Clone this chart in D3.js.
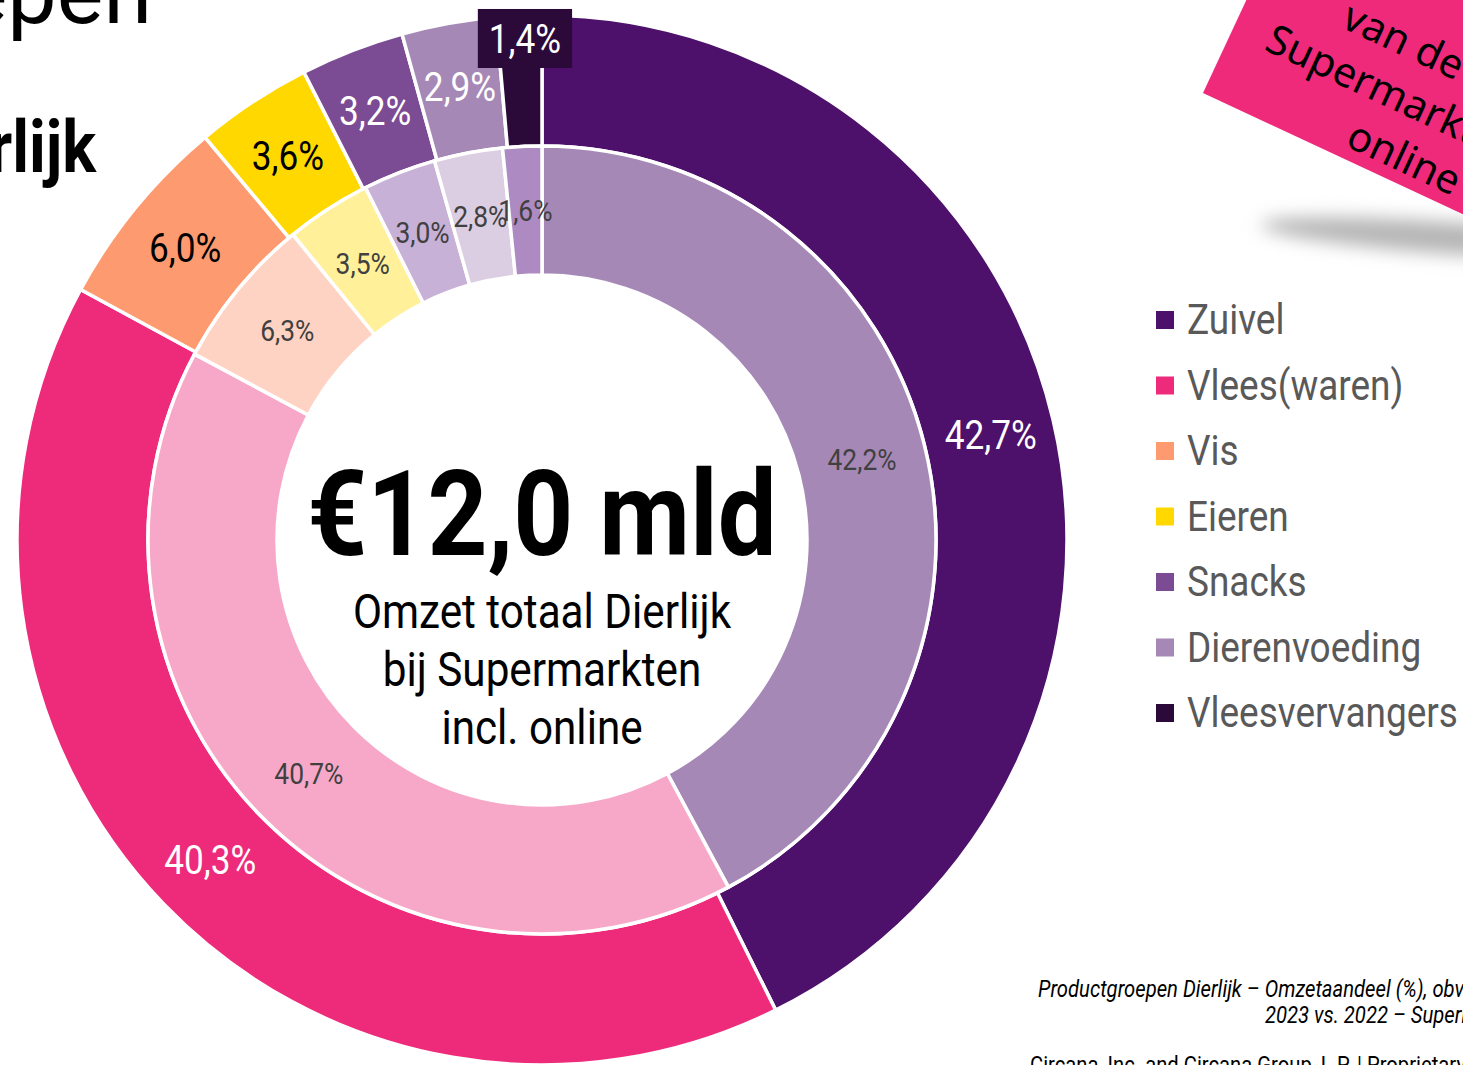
<!DOCTYPE html>
<html>
<head>
<meta charset="utf-8">
<script src="https://cdn.jsdelivr.net/npm/d3@7"></script>
<style>
  html, body { margin: 0; padding: 0; background: #fff; overflow: hidden; }
  svg { display: block; font-family: Roboto, "Noto Sans", sans-serif; }
</style>
</head>
<body>
<div id="chart"></div>
<script>
// DATA
var categories = ["Zuivel", "Vlees(waren)", "Vis", "Eieren", "Snacks", "Dierenvoeding", "Vleesvervangers"];
var share2023 = [42.7, 40.3, 6.0, 3.6, 3.2, 2.9, 1.4];   // outer ring
var share2022 = [42.2, 40.7, 6.3, 3.5, 3.0, 2.8, 1.6];   // inner ring

var outerColors = ["#4d106b", "#ee2a7b", "#fe9a6f", "#ffd800", "#7b4b94", "#a688b7", "#2b0a3a"];
var innerColors = ["#a688b7", "#f7a8c8", "#ffd3c3", "#fff099", "#c8b1d6", "#dbcde2", "#ae8ac2"];
var outerLabelColors = ["#fff", "#fff", "#000", "#000", "#fff", "#fff", "#fff"];

var centerValue = "€12,0 mld";
var centerLines = ["Omzet totaal Dierlijk", "bij Supermarkten", "incl. online"];
var stickerLines = ["van de omzet", "Supermarkten", "online"];
var footnoteLines = ["Productgroepen Dierlijk – Omzetaandeel (%), obv Omzet", "2023 vs. 2022 – Supermarkten incl. online"];

var W = 1463, H = 1065;
var cx = 542, cy = 540;
var squeeze = 0.88; // fake a condensed face

var svg = d3.select("#chart").append("svg")
    .attr("width", W)
    .attr("height", H);

var defs = svg.append("defs");
defs.append("filter").attr("id", "blur")
    .attr("x", "-50%").attr("y", "-200%").attr("width", "200%").attr("height", "500%")
    .append("feGaussianBlur").attr("stdDeviation", 9);

var fmt = d3.format(".1f");
function pct(v) { return fmt(v).replace(".", ",") + "%"; }

// text helper: condensed look via horizontal scaling
function ctext(g, x, y, str) {
    return g.append("text")
        .attr("transform", "translate(" + x + "," + y + ") scale(" + squeeze + ",1)")
        .text(str);
}

// SLIDE BITS
svg.append("text")
    .attr("x", 152).attr("y", 23)
    .attr("text-anchor", "end")
    .style("font-size", "88px")
    .style("font-weight", 400)
    .attr("fill", "#000")
    .text("Productgroepen");

ctext(svg, 96, 172, "Dierlijk")
    .attr("text-anchor", "end")
    .style("font-size", "72px")
    .style("font-weight", 700)
    .attr("fill", "#000");

// sticker shadow + sticker
svg.append("ellipse")
    .attr("cx", 1450).attr("cy", 238)
    .attr("rx", 190).attr("ry", 16)
    .attr("transform", "rotate(4,1450,238)")
    .attr("fill", "#b5b5b5")
    .attr("filter", "url(#blur)");

var sticker = svg.append("g")
    .attr("transform", "translate(1203,93) rotate(25)");
sticker.append("rect")
    .attr("x", 0).attr("y", -260)
    .attr("width", 600).attr("height", 260)
    .attr("fill", "#ef2a7b");
var stickerStart = [96, 36, 150];
stickerLines.forEach(function(s, i) {
    sticker.append("text")
        .attr("x", stickerStart[i])
        .attr("y", -118 + i * 53)
        .style("font-family", "'Noto Sans', 'Open Sans', sans-serif")
        .style("font-size", "41px")
        .attr("fill", "#000")
        .text(s);
});

// DONUT
var pie = d3.pie().sort(null).value(function(d) { return d; });
var outerArcs = pie(share2023);
var innerArcs = pie(share2022);

var rOuter = 525, rMid = 394, rInner = 265;
var arcOuter = d3.arc().innerRadius(rMid).outerRadius(rOuter);
var arcInner = d3.arc().innerRadius(rInner).outerRadius(rMid);
var labelOuter = d3.arc().innerRadius(461).outerRadius(461);
var labelInner = d3.arc().innerRadius(330).outerRadius(330);
var labelPushed = d3.arc().innerRadius(502).outerRadius(502);

var chart = svg.append("g")
    .attr("transform", "translate(" + cx + "," + cy + ")");

chart.selectAll(".outer")
    .data(outerArcs)
    .enter()
    .append("path")
        .attr("class", "outer")
        .attr("d", arcOuter)
        .attr("fill", function(d, i) { return outerColors[i]; })
        .attr("stroke", "#fff")
        .attr("stroke-width", 3.5);

chart.selectAll(".inner")
    .data(innerArcs)
    .enter()
    .append("path")
        .attr("class", "inner")
        .attr("d", arcInner)
        .attr("fill", function(d, i) { return innerColors[i]; })
        .attr("stroke", "#fff")
        .attr("stroke-width", 3.5);

// outer labels (the smallest slice gets pushed out onto a dark tag)
outerArcs.forEach(function(d, i) {
    var small = i == outerArcs.length - 1;
    var p = small ? labelPushed.centroid(d) : labelOuter.centroid(d);
    var g = chart.append("g");
    var t = ctext(g, p[0], p[1], pct(d.data))
        .attr("text-anchor", "middle")
        .attr("dy", "0.36em")
        .style("font-size", "40px")
        .attr("fill", outerLabelColors[i]);
    if (small) {
        var bb = t.node().getBBox();
        var w = bb.width * squeeze + 22, h = 59;
        g.insert("rect", "text")
            .attr("x", p[0] - w / 2 + 5)
            .attr("y", p[1] - h / 2)
            .attr("width", w)
            .attr("height", h)
            .attr("fill", outerColors[i]);
        t.attr("transform", "translate(" + (p[0] + 5) + "," + p[1] + ") scale(" + squeeze + ",1)");
    }
});

innerArcs.forEach(function(d) {
    var p = labelInner.centroid(d);
    ctext(chart, p[0], p[1], pct(d.data))
        .attr("text-anchor", "middle")
        .attr("dy", "0.36em")
        .style("font-size", "30px")
        .attr("fill", "#404040");
});

// center text
ctext(chart, 0, 15, centerValue)
    .attr("text-anchor", "middle")
    .style("font-size", "119px")
    .style("font-weight", 700)
    .attr("fill", "#000");

centerLines.forEach(function(s, i) {
    ctext(chart, 0, 88 + i * 58, s)
        .attr("text-anchor", "middle")
        .style("font-size", "48px")
        .attr("fill", "#000");
});

// LEGEND
var legend = svg.append("g")
    .attr("transform", "translate(1156,319)");
categories.forEach(function(c, i) {
    var row = legend.append("g")
        .attr("transform", "translate(0," + (i * 65.5) + ")");
    row.append("rect")
        .attr("x", 0).attr("y", -8)
        .attr("width", 18).attr("height", 18)
        .attr("fill", outerColors[i]);
    ctext(row, 31, 15, c)
        .style("font-size", "42px")
        .attr("fill", "#595959");
});

// FOOTNOTE
var footStart = [1038, 1265];
footnoteLines.forEach(function(s, i) {
    ctext(svg, footStart[i], 997 + i * 26, s)
        .style("font-size", "23px")
        .style("font-style", "italic")
        .attr("fill", "#000");
});

ctext(svg, 1030, 1073, "Circana, Inc. and Circana Group, L.P. | Proprietary and confidential")
    .style("font-size", "23px")
    .attr("fill", "#000");
</script>
</body>
</html>
